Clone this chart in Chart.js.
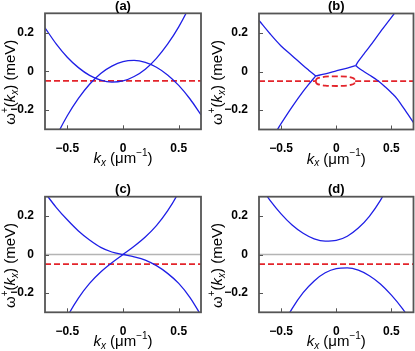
<!DOCTYPE html>
<html>
<head>
<meta charset="utf-8">
<script src="https://cdn.jsdelivr.net/npm/chart.js@4.4.1/dist/chart.umd.min.js"></script>
<style>
    html, body { margin: 0; padding: 0; background: #fff; }
    #fig { position: relative; width: 415px; height: 351px; overflow: hidden; }
    #fig canvas { position: absolute; }
</style>
</head>
<body>
<div id="fig">
    <canvas id="panelA" width="207" height="176" style="left:0;top:0"></canvas>
    <canvas id="panelB" width="208" height="176" style="left:207px;top:0"></canvas>
    <canvas id="panelC" width="207" height="175" style="left:0;top:176px"></canvas>
    <canvas id="panelD" width="208" height="175" style="left:207px;top:176px"></canvas>
</div>
<script>
// Datos
const kTicks = [-0.5, 0, 0.5];
const wTicks = [-0.2, 0, 0.2];
const kRange = [-0.7, 0.7];
const wRange = [-0.3, 0.3];
const wThreshold = -0.05;

const kGrid = [-0.7, -0.6, -0.5, -0.4, -0.3, -0.2, -0.1, 0, 0.1, 0.2, 0.3, 0.4, 0.5, 0.6, 0.7];

// (a)
const aUpperW = [0.225, 0.142, 0.073, 0.019, -0.021, -0.046, -0.056, -0.050, -0.027, 0.011, 0.067, 0.140, 0.230, 0.339, 0.465];
const aLowerW = [-0.465, -0.339, -0.230, -0.140, -0.067, -0.011, 0.027, 0.050, 0.056, 0.046, 0.021, -0.019, -0.073, -0.142, -0.225];

// (b) ramas entre puntos excepcionales, pares [k, w]
const bUpperLeft = [[-0.7, 0.264], [-0.6, 0.195], [-0.5, 0.132], [-0.4, 0.082], [-0.3, 0.031], [-0.25, 0.007], [-0.186, -0.023]];
const bLowerLeft = [[-0.55, -0.316], [-0.5, -0.27], [-0.4, -0.183], [-0.3, -0.103], [-0.25, -0.067], [-0.186, -0.023]];
const bMiddle = [[-0.186, -0.023], [-0.1, -0.012], [0, 0.003], [0.1, 0.018], [0.177, 0.031]];
const bUpperRight = [[0.177, 0.031], [0.2, 0.052], [0.25, 0.09], [0.3, 0.127], [0.4, 0.205], [0.5, 0.28], [0.55, 0.318]];
const bLowerRight = [[0.177, 0.031], [0.2, 0.019], [0.25, 0.0], [0.3, -0.018], [0.381, -0.049], [0.45, -0.083], [0.5, -0.11], [0.55, -0.14], [0.6, -0.18], [0.65, -0.222], [0.7, -0.265]];
const bLoopTop = [[-0.186, -0.05], [-0.18, -0.04], [-0.15, -0.032], [-0.1, -0.027], [0, -0.025], [0.1, -0.027], [0.14, -0.032], [0.165, -0.04], [0.171, -0.05]];
const bLoopBottom = [[-0.186, -0.05], [-0.18, -0.06], [-0.15, -0.068], [-0.1, -0.073], [0, -0.075], [0.1, -0.073], [0.14, -0.068], [0.165, -0.06], [0.171, -0.05]];

// (c)
const cFallW = [0.32, 0.245, 0.18, 0.122, 0.075, 0.037, 0.013, 0, -0.012, -0.029, -0.058, -0.098, -0.15, -0.222, -0.315];
const cRiseW = [-0.603, -0.446, -0.323, -0.226, -0.150, -0.091, -0.043, 0, 0.043, 0.091, 0.150, 0.226, 0.323, 0.446, 0.603];

// (d)
const dUpperW = [0.364, 0.281, 0.211, 0.153, 0.110, 0.081, 0.069, 0.073, 0.095, 0.137, 0.198, 0.281, 0.386, 0.513, 0.665];
const dLowerW = [-0.665, -0.513, -0.386, -0.281, -0.198, -0.137, -0.095, -0.073, -0.069, -0.081, -0.110, -0.153, -0.211, -0.281, -0.364];

const BLUE = '#1f1fe6';
const RED = '#e3242b';
const GRAY = '#b4b4b4';
const FRAME = '#555555';
const FONT = "'Liberation Sans', Arial, sans-serif";

const xTitleParts = [
    { t: 'k', f: 'italic 15px' },
    { t: 'x', f: 'italic 10px', dy: 4 },
    { t: ' (μm', f: '15px' },
    { t: '−1', f: '10px', dy: -6 },
    { t: ')', f: '15px' }
];
const yTitleParts = [
    { t: 'ω', f: '15px' },
    { t: '+', f: '10px', dy: -6 },
    { t: '(', f: '15px' },
    { t: 'k', f: 'italic 15px' },
    { t: 'x', f: 'italic 10px', dy: 4 },
    { t: ') (meV)', f: '15px' }
];

function pairs(list) {
    return list.map(p => ({ x: p[0], y: p[1] }));
}

function onGrid(values) {
    return kGrid.map((k, i) => ({ x: k, y: values[i] }));
}

function curve(data) {
    return { data, borderColor: BLUE, borderWidth: 1.3 };
}

function dashed(data) {
    return { data, borderColor: RED, borderWidth: 1.8, borderDash: [6, 3] };
}

function thresholdLine(k0, k1) {
    return dashed([{ x: k0, y: wThreshold }, { x: k1, y: wThreshold }]);
}

function zeroLine() {
    return { data: [{ x: kRange[0], y: 0 }, { x: kRange[1], y: 0 }], borderColor: GRAY, borderWidth: 1.3 };
}

function fmt(v) {
    if (v === 0) return '0';
    return (v < 0 ? '−' : '') + Math.abs(v).toFixed(1);
}

function drawRich(ctx, parts, cx, cy) {
    let total = 0;
    parts.forEach(p => {
        ctx.font = p.f + ' ' + FONT;
        p.w = ctx.measureText(p.t).width;
        total += p.w;
    });
    let x = cx - total / 2;
    ctx.textBaseline = 'middle';
    ctx.textAlign = 'left';
    parts.forEach(p => {
        ctx.font = p.f + ' ' + FONT;
        ctx.fillText(p.t, x, cy + (p.dy || 0));
        x += p.w;
    });
}

const ornaments = {
    id: 'ornaments',
    afterDatasetsDraw(chart, args, opts) {
        const { ctx, chartArea: a, scales: { x, y } } = chart;
        ctx.save();
        ctx.strokeStyle = FRAME;
        ctx.lineWidth = 1;
        kTicks.forEach(v => {
            const px = Math.round(x.getPixelForValue(v)) + 0.5;
            ctx.beginPath();
            ctx.moveTo(px, a.bottom);
            ctx.lineTo(px, a.bottom - 4);
            ctx.stroke();
        });
        wTicks.forEach(v => {
            const py = Math.round(y.getPixelForValue(v)) + 0.5;
            ctx.beginPath();
            ctx.moveTo(a.left, py);
            ctx.lineTo(a.left + 4, py);
            ctx.stroke();
        });
        ctx.lineWidth = 1.8;
        ctx.strokeRect(a.left, a.top, a.right - a.left, a.bottom - a.top);
        ctx.restore();
    },
    afterDraw(chart, args, opts) {
        const { ctx, chartArea: a } = chart;
        const midX = (a.left + a.right) / 2;
        ctx.save();
        ctx.fillStyle = '#000';
        ctx.font = 'bold 13px ' + FONT;
        ctx.textAlign = 'center';
        ctx.textBaseline = 'middle';
        ctx.fillText(opts.title, midX, a.top - 7);
        drawRich(ctx, xTitleParts, midX, a.bottom + 30);
        ctx.translate(11, (a.top + a.bottom) / 2 + 11);
        ctx.rotate(-Math.PI / 2);
        drawRich(ctx, yTitleParts, 0, 0);
        ctx.restore();
    }
};

function makePanel(id, title, box, datasets) {
    const canvas = document.getElementById(id);
    const W = canvas.width, H = canvas.height;
    return new Chart(canvas, {
        type: 'scatter',
        data: {
            datasets: datasets.map(d => Object.assign({
                showLine: true,
                pointRadius: 0,
                cubicInterpolationMode: 'monotone'
            }, d))
        },
        options: {
            responsive: false,
            animation: false,
            events: [],
            layout: { padding: { left: 0, top: box.top, right: W - box.right, bottom: 0 } },
            plugins: {
                legend: { display: false },
                tooltip: { enabled: false },
                ornaments: { title }
            },
            scales: {
                x: {
                    type: 'linear',
                    min: kRange[0],
                    max: kRange[1],
                    grid: { display: false },
                    border: { display: false },
                    afterBuildTicks: s => { s.ticks = kTicks.map(v => ({ value: v })); },
                    afterFit: s => { s.height = H - box.bottom; },
                    ticks: {
                        padding: 4,
                        maxRotation: 0,
                        color: '#000',
                        font: { family: FONT, size: 12, weight: 'bold' },
                        callback: v => fmt(v)
                    }
                },
                y: {
                    type: 'linear',
                    min: wRange[0],
                    max: wRange[1],
                    grid: { display: false },
                    border: { display: false },
                    afterBuildTicks: s => { s.ticks = wTicks.map(v => ({ value: v })); },
                    afterFit: s => { s.width = box.left; },
                    ticks: {
                        padding: 3,
                        color: '#000',
                        font: { family: FONT, size: 12, weight: 'bold' },
                        callback: v => fmt(v)
                    }
                }
            }
        },
        plugins: [ornaments]
    });
}

document.addEventListener('DOMContentLoaded', () => {
    makePanel('panelA', '(a)', { left: 45, top: 13.3, right: 201, bottom: 129.3 }, [
        curve(onGrid(aUpperW)),
        curve(onGrid(aLowerW)),
        thresholdLine(kRange[0], kRange[1])
    ]);

    makePanel('panelB', '(b)', { left: 52, top: 13.5, right: 206.5, bottom: 129.5 }, [
        curve(pairs(bUpperLeft)),
        curve(pairs(bLowerLeft)),
        curve(pairs(bMiddle)),
        curve(pairs(bUpperRight)),
        curve(pairs(bLowerRight)),
        thresholdLine(kRange[0], bLoopTop[0][0]),
        thresholdLine(bLoopTop[bLoopTop.length - 1][0], kRange[1]),
        dashed(pairs(bLoopTop)),
        dashed(pairs(bLoopBottom))
    ]);

    makePanel('panelC', '(c)', { left: 45, top: 20.7, right: 201, bottom: 136.3 }, [
        curve(onGrid(cFallW)),
        curve(onGrid(cRiseW)),
        thresholdLine(kRange[0], kRange[1]),
        zeroLine()
    ]);

    makePanel('panelD', '(d)', { left: 52, top: 20.7, right: 206.5, bottom: 136.3 }, [
        curve(onGrid(dUpperW)),
        curve(onGrid(dLowerW)),
        thresholdLine(kRange[0], kRange[1]),
        zeroLine()
    ]);
});
</script>
</body>
</html>
